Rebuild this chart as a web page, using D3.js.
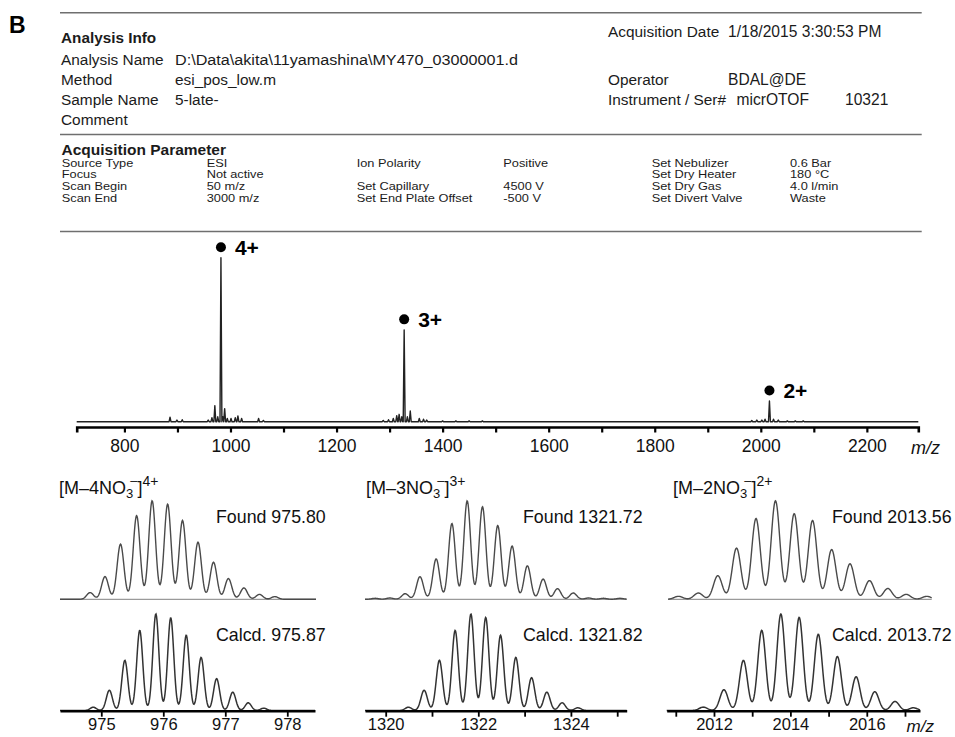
<!DOCTYPE html>
<html>
<head>
<meta charset="utf-8">
<script src="https://cdn.jsdelivr.net/npm/d3@7"></script>
<style>
  body { margin: 0; background: #fff; }
  svg { display: block; font-family: "Liberation Sans", Arial, Helvetica, sans-serif; }
</style>
</head>
<body>
<svg id="fig" width="955" height="737"></svg>
<script>
// ---------- Report header text ----------
const infoLabels = ["Analysis Name", "Method", "Sample Name", "Comment"];
const infoValues = ["D:\\Data\\akita\\11yamashina\\MY470_03000001.d", "esi_pos_low.m", "5-late-", ""];
const acqLabels = ["Acquisition Date", "Operator", "Instrument / Ser#"];
const acqValues = ["1/18/2015 3:30:53 PM", "BDAL@DE", "micrOTOF"];
const serialNo = "10321";

const paramLabelsA = ["Source Type", "Focus", "Scan Begin", "Scan End"];
const paramValuesA = ["ESI", "Not active", "50 m/z", "3000 m/z"];
const paramLabelsB = ["Ion Polarity", "", "Set Capillary", "Set End Plate Offset"];
const paramValuesB = ["Positive", "", "4500 V", "-500 V"];
const paramLabelsC = ["Set Nebulizer", "Set Dry Heater", "Set Dry Gas", "Set Divert Valve"];
const paramValuesC = ["0.6 Bar", "180 °C", "4.0 l/min", "Waste"];

// ---------- Overview spectrum (relative intensity, %) ----------
const overviewMz = [886, 899, 909, 958, 965, 970.5, 976, 982, 985.5, 989, 994, 1001, 1009, 1014, 1021, 1053, 1062,
                    1288, 1298, 1307, 1313.5, 1318, 1323, 1327.5, 1333.5, 1339, 1356, 1364, 1370, 1400, 1425, 1450, 1475,
                    1983, 1992.5, 2002, 2008, 2016.3, 2024, 2033, 2050, 2065, 2080];
const overviewInt = [2.7, 1, 1.2, 1, 2.5, 9.8, 3, 100, 3, 8, 2, 2, 2.5, 3.5, 2, 2, 0.8,
                     0.8, 1.2, 2, 3.7, 4.5, 3, 56, 3, 6.5, 2, 1.5, 1, 0.5, 0.5, 0.5, 0.5,
                     0.7, 1, 1, 1.5, 12.6, 1.5, 1, 0.5, 0.5, 0.5];
const chargeMz = [982, 1327.5, 2016.3];
const chargeLabels = ["4+", "3+", "2+"];
const overviewTicks = d3.range(800, 2201, 100);
const overviewTickLabels = [800, 1000, 1200, 1400, 1600, 1800, 2000, 2200];

// ---------- Isotope patterns ----------
const found4Mz  = [974.82, 975.06, 975.31, 975.57, 975.82, 976.07, 976.31, 976.56, 976.81, 977.05, 977.30, 977.55, 977.80];
const found4Int = [6.8, 23, 56, 85, 100, 96.6, 80, 58, 37.6, 21, 11.5, 5, 2.7];
const calc4Mz   = [974.87, 975.13, 975.38, 975.62, 975.88, 976.12, 976.37, 976.61, 976.86, 977.12, 977.37, 977.62];
const calc4Int  = [3.4, 21, 52, 83, 100, 96, 78, 55, 33, 19, 8, 2.4];

const found3Mz  = [1319.77, 1320.09, 1320.42, 1320.74, 1321.09, 1321.43, 1321.76, 1322.09, 1322.42, 1322.73, 1323.06, 1323.40, 1323.71, 1324.05, 1324.38, 1324.70, 1325.06];
const found3Int = [1, 1.3, 5.7, 23, 41, 77, 100, 94, 75, 54, 34, 20.5, 10.8, 6.4, 1.3, 1, 1];
const calc3Mz   = [1320.49, 1320.83, 1321.16, 1321.50, 1321.84, 1322.16, 1322.48, 1322.81, 1323.15, 1323.48, 1323.81, 1324.15];
const calc3Int  = [3.4, 21, 52, 83, 100, 96.5, 78, 55, 34, 19, 8, 2.8];

const found2Mz  = [2011.07, 2011.59, 2012.10, 2012.59, 2013.10, 2013.61, 2014.10, 2014.58, 2015.08, 2015.56, 2016.07, 2016.55, 2017.03, 2017.57];
const found2Int = [3, 6.4, 24, 52, 82, 100, 87, 80, 50.5, 36, 19, 11, 5, 3];
const calc2Mz   = [2011.72, 2012.26, 2012.77, 2013.25, 2013.75, 2014.23, 2014.73, 2015.23, 2015.72, 2016.21, 2016.74, 2017.22];
const calc2Int  = [3.5, 21.5, 52, 83, 100, 96.5, 79, 56, 35, 19.5, 9.4, 2.8];

const ionCounts = ["4", "3", "2"];
const foundTexts = ["Found 975.80", "Found 1321.72", "Found 2013.56"];
const calcTexts = ["Calcd. 975.87", "Calcd. 1321.82", "Calcd. 2013.72"];
const ticks4 = [975, 976, 977, 978], labels4 = [975, 976, 977, 978];
const ticks3 = [1320, 1321, 1322, 1323, 1324, 1325], labels3 = [1320, 1322, 1324];
const ticks2 = [2011, 2012, 2013, 2014, 2015, 2016, 2017], labels2 = [2012, 2014, 2016];

// ================= drawing =================
const svg = d3.select("#fig");
const INK = "#1b1b1b";

function txt(x, y, s, size, opts = {}) {
  return svg.append("text").attr("x", x).attr("y", y)
    .attr("font-size", size).attr("fill", opts.fill || INK)
    .attr("font-weight", opts.bold ? "bold" : null)
    .attr("font-style", opts.italic ? "italic" : null)
    .attr("text-anchor", opts.anchor || null)
    .text(s);
}

// Panel letter
txt(9, 33, "B", 23, { bold: true, fill: "#000" });

// Horizontal rules of the report
[12.7, 134.5, 231.5].forEach(y => {
  svg.append("line").attr("x1", 60).attr("x2", 921.7).attr("y1", y).attr("y2", y)
    .attr("stroke", "#6f6f6f").attr("stroke-width", 1.6);
});

// Analysis info block
txt(61, 42.5, "Analysis Info", 15.3, { bold: true });
const infoY = [65, 85, 105, 124.5];
infoLabels.forEach((l, i) => {
  txt(61, infoY[i], l, 15.4);
  const v = txt(175, infoY[i], infoValues[i], 15.4);
  if (i === 0) v.attr("textLength", 343).attr("lengthAdjust", "spacingAndGlyphs");
});
const acqY = [37, 85, 105];
const acqValueX = [728, 728, 736.5];
acqLabels.forEach((l, i) => {
  txt(608, acqY[i], l, 15.4);
  txt(acqValueX[i], acqY[i], acqValues[i], 15.6);
});
txt(845, acqY[2], serialNo, 15.6);

// Acquisition parameter block (compact, vertically condensed print)
txt(61.5, 155, "Acquisition Parameter", 15.5, { bold: true });
const paramY = [166.5, 178.2, 190, 201.7];
const paramCols = [
  [paramLabelsA, 61.7], [paramValuesA, 206.7],
  [paramLabelsB, 356.7], [paramValuesB, 503.3],
  [paramLabelsC, 651.7], [paramValuesC, 790]
];
paramCols.forEach(([arr, x]) => {
  arr.forEach((s, i) => {
    if (!s) return;
    svg.append("text").attr("transform", `translate(${x},${paramY[i]}) scale(1,0.84)`)
      .attr("font-size", 12.8).attr("fill", INK).text(s);
  });
});

// ---------- Overview spectrum ----------
const xMain = d3.scaleLinear().domain([710, 2297]).range([76.7, 918.3]);
const yMain = d3.scaleLinear().domain([0, 100]).range([421.7, 257.7]);
const halfWidth = 1.8; // m/z half-width of each centroid spike

const order = d3.range(overviewMz.length).sort((a, b) => overviewMz[a] - overviewMz[b]);
const specPts = [[xMain.domain()[0], 0]];
order.forEach(i => {
  specPts.push([overviewMz[i] - halfWidth, 0], [overviewMz[i], overviewInt[i]], [overviewMz[i] + halfWidth, 0]);
});
specPts.push([xMain.domain()[1], 0]);
svg.append("path")
  .attr("d", d3.line().x(d => xMain(d[0])).y(d => yMain(d[1]))(specPts))
  .attr("fill", "none").attr("stroke", "#222").attr("stroke-width", 1.4)
  .attr("stroke-linejoin", "round");

// Axis
const gMain = svg.append("g").attr("transform", "translate(0,427)")
  .call(d3.axisBottom(xMain).tickValues(overviewTicks)
    .tickFormat(d => overviewTickLabels.includes(d) ? d : "")
    .tickSize(5.5).tickSizeOuter(5.5).tickPadding(7.5));
gMain.select(".domain").attr("stroke", "#000").attr("stroke-width", 2.6);
gMain.selectAll(".tick line").attr("stroke", "#000").attr("stroke-width", 2.2);
gMain.selectAll(".tick text").attr("font-size", 17.5).attr("fill", "#111")
  .attr("font-family", "Liberation Sans, Arial, sans-serif");
txt(911, 454, "m/z", 18, { italic: true, fill: "#111" });

// Charge state markers
chargeMz.forEach((mz, i) => {
  const k = overviewMz.indexOf(mz);
  const cx = xMain(mz), top = yMain(overviewInt[k]);
  svg.append("circle").attr("cx", cx).attr("cy", top - 10.5).attr("r", 5).attr("fill", "#000");
  txt(cx + 14, top - 3, chargeLabels[i], 21, { bold: true, fill: "#000" });
});

// ---------- Isotope pattern panels ----------
function profilePath(mzArr, intArr, sigma, x, y, px0, px1) {
  const m0 = x.invert(px0), m1 = x.invert(px1);
  const n = Math.round((px1 - px0) * 2);
  const pts = d3.range(n + 1).map(j => {
    const m = m0 + (m1 - m0) * j / n;
    let s = 0;
    mzArr.forEach((c, k) => { s += intArr[k] * Math.exp(-((m - c) ** 2) / (2 * sigma * sigma)); });
    return [m, s];
  });
  return d3.line().x(d => x(d[0])).y(d => y(d[1]))(pts);
}

const panels = [
  { found: [found4Mz, found4Int], calc: [calc4Mz, calc4Int], sF: 0.055, sC: 0.049,
    px: [60, 315], dom: [974.334, 978.447], foundPx: [60, 316], ticks: ticks4, labels: labels4, titleX: 59, textX: 216 },
  { found: [found3Mz, found3Int], calc: [calc3Mz, calc3Int], sF: 0.073, sC: 0.069,
    px: [365, 626.7], dom: [1319.553, 1325.205], foundPx: [365, 626.7], ticks: ticks3, labels: labels3, titleX: 366, textX: 523 },
  { found: [found2Mz, found2Int], calc: [calc2Mz, calc2Int], sF: 0.113, sC: 0.104,
    px: [666.7, 920], dom: [2010.762, 2017.393], foundPx: [668, 931.7], ticks: ticks2, labels: labels2, titleX: 673, textX: 832 }
];

const yFound = d3.scaleLinear().domain([0, 100]).range([599.3, 500.8]);
const yCalc = d3.scaleLinear().domain([0, 100]).range([710.5, 614]);

panels.forEach((p, i) => {
  const x = d3.scaleLinear().domain(p.dom).range(p.px);

  // Title  [M–nNO3⁻]n+
  const t = svg.append("text").attr("x", p.titleX).attr("y", 493.5).attr("font-size", 18).attr("fill", "#111");
  t.append("tspan").text("[M–" + ionCounts[i] + "NO");
  t.append("tspan").attr("font-size", 13).attr("dy", 4.5).text("3");
  t.append("tspan").attr("font-size", 13).attr("dx", -3).attr("dy", -13).text("–");
  t.append("tspan").attr("dy", 8.5).text("]");
  t.append("tspan").attr("font-size", 14).attr("dy", -8).text(ionCounts[i] + "+");

  // Measured trace with its baseline
  svg.append("line").attr("x1", p.foundPx[0]).attr("x2", p.foundPx[1])
    .attr("y1", yFound(0)).attr("y2", yFound(0)).attr("stroke", "#9a9a9a").attr("stroke-width", 1.2);
  svg.append("path").attr("d", profilePath(p.found[0], p.found[1], p.sF, x, yFound, p.foundPx[0], p.foundPx[1]))
    .attr("fill", "none").attr("stroke", "#4a4a4a").attr("stroke-width", 1.4);

  // Simulated trace
  svg.append("path").attr("d", profilePath(p.calc[0], p.calc[1], p.sC, x, yCalc, p.px[0], p.px[1]))
    .attr("fill", "none").attr("stroke", "#333").attr("stroke-width", 1.5);

  txt(p.textX, 522.5, foundTexts[i], 17.8, { fill: "#111" });
  txt(p.textX, 641, calcTexts[i], 17.8, { fill: "#111" });

  const g = svg.append("g").attr("transform", "translate(0,710.7)")
    .call(d3.axisBottom(x).tickValues(p.ticks)
      .tickFormat(d => p.labels.includes(d) ? d : "")
      .tickSize(6).tickSizeOuter(0).tickPadding(2));
  g.select(".domain").attr("stroke", "#000").attr("stroke-width", 2.4);
  g.selectAll(".tick line").attr("stroke", "#000").attr("stroke-width", 1.8);
  g.selectAll(".tick text").attr("font-size", 16.5).attr("fill", "#111")
    .attr("font-family", "Liberation Sans, Arial, sans-serif");
});
txt(906.5, 732, "m/z", 17, { italic: true, fill: "#111" });
</script>
</body>
</html>
